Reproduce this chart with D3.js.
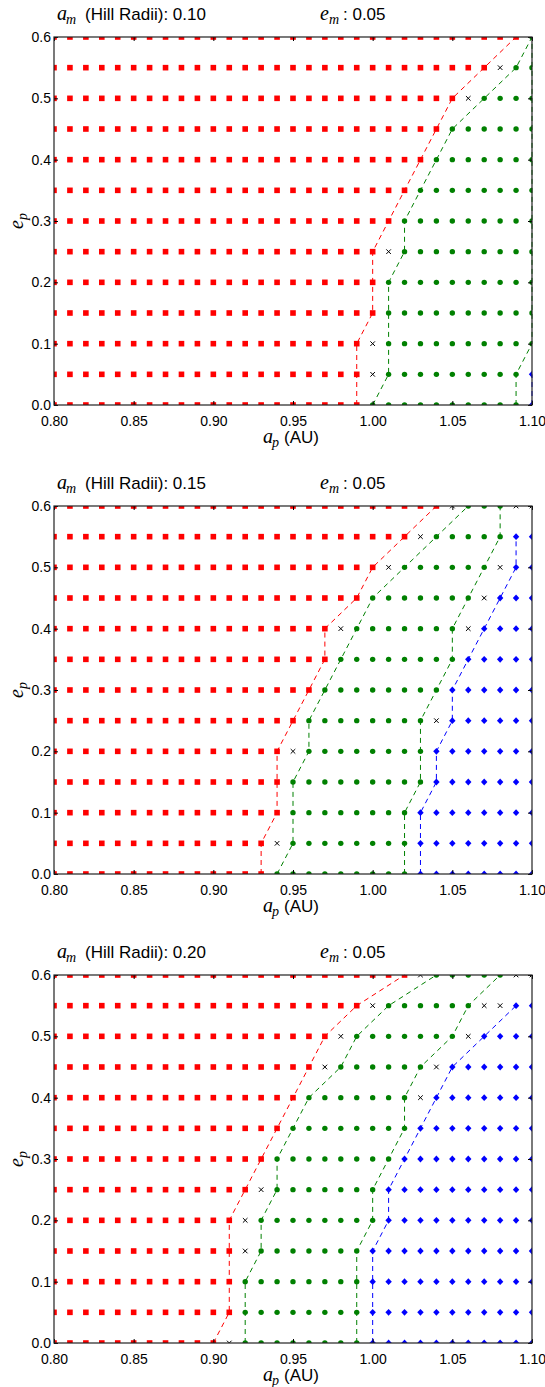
<!DOCTYPE html>
<html>
<head>
<meta charset="utf-8">
<script src="https://cdn.jsdelivr.net/npm/d3@7"></script>
<style>
  body { margin: 0; background: #fff; }
  svg { display: block; }
</style>
</head>
<body>
<script>
// grid of the scan
var aVals = [0.80, 0.81, 0.82, 0.83, 0.84, 0.85, 0.86, 0.87, 0.88, 0.89, 0.90,
             0.91, 0.92, 0.93, 0.94, 0.95, 0.96, 0.97, 0.98, 0.99, 1.00,
             1.01, 1.02, 1.03, 1.04, 1.05, 1.06, 1.07, 1.08, 1.09, 1.10];
var eVals = [0.00, 0.05, 0.10, 0.15, 0.20, 0.25, 0.30, 0.35, 0.40, 0.45, 0.50, 0.55, 0.60];
var xTicks = [0.80, 0.85, 0.90, 0.95, 1.00, 1.05, 1.10];
var yTicks = [0.0, 0.1, 0.2, 0.3, 0.4, 0.5, 0.6];
var amLabels = ["0.10", "0.15", "0.20"];
var emLabels = ["0.05", "0.05", "0.05"];

// per e row: last red a, first/last green a, first blue a (null = none)
var redMax1   = [0.99, 0.99, 0.99, 1.00, 1.00, 1.00, 1.01, 1.02, 1.03, 1.04, 1.05, 1.07, 1.09];
var greenLo1  = [1.00, 1.01, 1.01, 1.01, 1.01, 1.02, 1.02, 1.03, 1.04, 1.05, 1.07, 1.09, 1.10];
var greenHi1  = [1.09, 1.09, 1.10, 1.10, 1.10, 1.10, 1.10, 1.10, 1.10, 1.10, 1.10, 1.10, 1.10];
var blueLo1   = [1.10, 1.10, null, null, null, null, null, null, null, null, null, null, null];

var redMax2   = [0.93, 0.93, 0.94, 0.94, 0.94, 0.95, 0.96, 0.97, 0.97, 0.99, 1.00, 1.02, 1.04];
var greenLo2  = [0.94, 0.95, 0.95, 0.95, 0.96, 0.96, 0.97, 0.98, 0.99, 1.00, 1.02, 1.04, 1.06];
var greenHi2  = [1.02, 1.02, 1.02, 1.03, 1.03, 1.03, 1.04, 1.05, 1.05, 1.06, 1.07, 1.08, 1.08];
var blueLo2   = [1.03, 1.03, 1.03, 1.04, 1.04, 1.05, 1.05, 1.06, 1.07, 1.08, 1.09, 1.09, null];

var redMax3   = [0.90, 0.91, 0.91, 0.91, 0.91, 0.92, 0.93, 0.94, 0.95, 0.96, 0.97, 0.99, 1.02];
var greenLo3  = [0.92, 0.92, 0.92, 0.93, 0.93, 0.94, 0.94, 0.95, 0.96, 0.98, 0.99, 1.01, 1.04];
var greenHi3  = [0.99, 0.99, 0.99, 0.99, 1.00, 1.00, 1.01, 1.02, 1.02, 1.03, 1.05, 1.06, 1.08];
var blueLo3   = [1.00, 1.00, 1.00, 1.00, 1.01, 1.01, 1.02, 1.03, 1.04, 1.05, 1.07, 1.09, null];

var panels = [
  {red: redMax1, glo: greenLo1, ghi: greenHi1, blo: blueLo1, top: 37},
  {red: redMax2, glo: greenLo2, ghi: greenHi2, blo: blueLo2, top: 506},
  {red: redMax3, glo: greenLo3, ghi: greenHi3, blo: blueLo3, top: 975}
];

var W = 545, H = 1387,
    left = 54, right = 532, ph = 368,
    sans = "'Liberation Sans', Arial, sans-serif",
    serif = "'Liberation Serif', 'Times New Roman', serif";

var svg = d3.select("body").append("svg").attr("width", W).attr("height", H);
svg.append("rect").attr("width", W).attr("height", H).attr("fill", "#fff");

function cents(v) { return Math.round(v * 100); }

function kind(a, i, P) {
  var k = cents(a);
  if (k <= cents(P.red[i])) return "red";
  if (P.glo[i] != null && k >= cents(P.glo[i]) && k <= cents(P.ghi[i])) return "green";
  if (P.blo[i] != null && k >= cents(P.blo[i])) return "blue";
  return "cross";
}

panels.forEach(function(P, pi) {
  var top = P.top, bottom = top + ph;
  var x = d3.scaleLinear().domain([0.8, 1.1]).range([left, right]);
  var y = d3.scaleLinear().domain([0, 0.6]).range([bottom, top]);
  var g = svg.append("g");

  var clipId = "clip" + pi;
  svg.append("clipPath").attr("id", clipId)
    .append("rect").attr("x", left).attr("y", top)
    .attr("width", right - left).attr("height", ph);

  var pts = [];
  eVals.forEach(function(e, i) {
    aVals.forEach(function(a) { pts.push({a: a, e: e, k: kind(a, i, P)}); });
  });

  var mk = g.append("g").attr("clip-path", "url(#" + clipId + ")");

  mk.selectAll("rect.sq").data(pts.filter(function(d) { return d.k == "red"; }))
    .enter().append("rect").attr("class", "sq")
    .attr("x", function(d) { return x(d.a) - 2.8; })
    .attr("y", function(d) { return y(d.e) - 2.8; })
    .attr("width", 5.6).attr("height", 5.6)
    .attr("fill", "#ff0000");

  mk.selectAll("circle").data(pts.filter(function(d) { return d.k == "green"; }))
    .enter().append("circle")
    .attr("cx", function(d) { return x(d.a); })
    .attr("cy", function(d) { return y(d.e); })
    .attr("r", 2.7)
    .attr("fill", "#008000");

  mk.selectAll("path.dm").data(pts.filter(function(d) { return d.k == "blue"; }))
    .enter().append("path").attr("class", "dm")
    .attr("d", function(d) {
      var cx = x(d.a), cy = y(d.e);
      return "M" + cx + "," + (cy - 3.4) + "L" + (cx + 3.2) + "," + cy +
             "L" + cx + "," + (cy + 3.4) + "L" + (cx - 3.2) + "," + cy + "Z";
    })
    .attr("fill", "#0000ff");

  mk.selectAll("path.cr").data(pts.filter(function(d) { return d.k == "cross"; }))
    .enter().append("path").attr("class", "cr")
    .attr("d", function(d) {
      var cx = x(d.a), cy = y(d.e), s = 2.3;
      return "M" + (cx - s) + "," + (cy - s) + "L" + (cx + s) + "," + (cy + s) +
             "M" + (cx - s) + "," + (cy + s) + "L" + (cx + s) + "," + (cy - s);
    })
    .attr("stroke", "#000").attr("stroke-width", 1).attr("fill", "none");

  // boundary lines
  var line = d3.line()
    .defined(function(d) { return d[0] != null; })
    .x(function(d) { return x(d[0]); })
    .y(function(d) { return y(d[1]); });

  var bounds = [
    {vals: P.red, col: "#ff0000"},
    {vals: P.glo, col: "#008000"},
    {vals: P.ghi, col: "#008000"},
    {vals: P.blo, col: "#0000ff"}
  ];
  var ln = g.append("g");
  bounds.forEach(function(b) {
    var dat = eVals.map(function(e, i) { return [b.vals[i], e]; }).filter(function(d) { return d[0] != null; });
    ln.append("path").datum(dat)
      .attr("d", line)
      .attr("fill", "none")
      .attr("stroke", b.col)
      .attr("stroke-width", 1)
      .attr("stroke-dasharray", "5,4");
  });

  // axes, ticks inward on all four sides
  var ax = g.append("g").style("font-family", sans).style("font-size", "14px");
  var xb = ax.append("g").attr("transform", "translate(0," + bottom + ")")
    .call(d3.axisBottom(x).tickValues(xTicks).tickFormat(d3.format(".2f")).tickSize(-4).tickPadding(11));
  var xt = ax.append("g").attr("transform", "translate(0," + top + ")")
    .call(d3.axisTop(x).tickValues(xTicks).tickFormat("").tickSize(-4));
  var yl = ax.append("g").attr("transform", "translate(" + left + ",0)")
    .call(d3.axisLeft(y).tickValues(yTicks).tickFormat(d3.format(".1f")).tickSize(-4).tickPadding(3));
  var yr = ax.append("g").attr("transform", "translate(" + right + ",0)")
    .call(d3.axisRight(y).tickValues(yTicks).tickFormat("").tickSize(-4));
  ax.selectAll(".domain").remove();
  ax.selectAll(".tick line").attr("stroke", "#000");
  ax.selectAll(".tick text").attr("fill", "#000").style("font-family", sans).style("font-size", "14px");

  g.append("rect")
    .attr("x", left).attr("y", top).attr("width", right - left).attr("height", ph)
    .attr("fill", "none").attr("stroke", "#222").attr("stroke-width", 1.2);

  // title
  var ty = top - 17;
  g.append("text").attr("x", 57).attr("y", ty).text("a")
    .style("font-family", serif).style("font-style", "italic").style("font-size", "20px");
  g.append("text").attr("x", 66).attr("y", ty + 4).text("m")
    .style("font-family", serif).style("font-style", "italic").style("font-size", "14px");
  g.append("text").attr("x", 85).attr("y", ty).text("(Hill Radii): " + amLabels[pi])
    .style("font-family", sans).style("font-size", "17px");
  g.append("text").attr("x", 320).attr("y", ty).text("e")
    .style("font-family", serif).style("font-style", "italic").style("font-size", "20px");
  g.append("text").attr("x", 329).attr("y", ty + 4).text("m")
    .style("font-family", serif).style("font-style", "italic").style("font-size", "14px");
  g.append("text").attr("x", 343).attr("y", ty).text(": " + emLabels[pi])
    .style("font-family", sans).style("font-size", "17px");

  // x label
  var xy = bottom + 38;
  g.append("text").attr("x", 263).attr("y", xy).text("a")
    .style("font-family", serif).style("font-style", "italic").style("font-size", "20px");
  g.append("text").attr("x", 272).attr("y", xy + 4).text("p")
    .style("font-family", serif).style("font-style", "italic").style("font-size", "14px");
  g.append("text").attr("x", 284).attr("y", xy).text("(AU)")
    .style("font-family", sans).style("font-size", "17px");

  // y label
  var yc = (top + bottom) / 2;
  var ylab = g.append("text").attr("transform", "translate(23," + yc + ") rotate(-90)")
    .attr("text-anchor", "middle")
    .style("font-family", serif).style("font-style", "italic").style("font-size", "20px");
  ylab.append("tspan").text("e");
  ylab.append("tspan").attr("dy", 4).style("font-size", "14px").text("p");
});
</script>
</body>
</html>
